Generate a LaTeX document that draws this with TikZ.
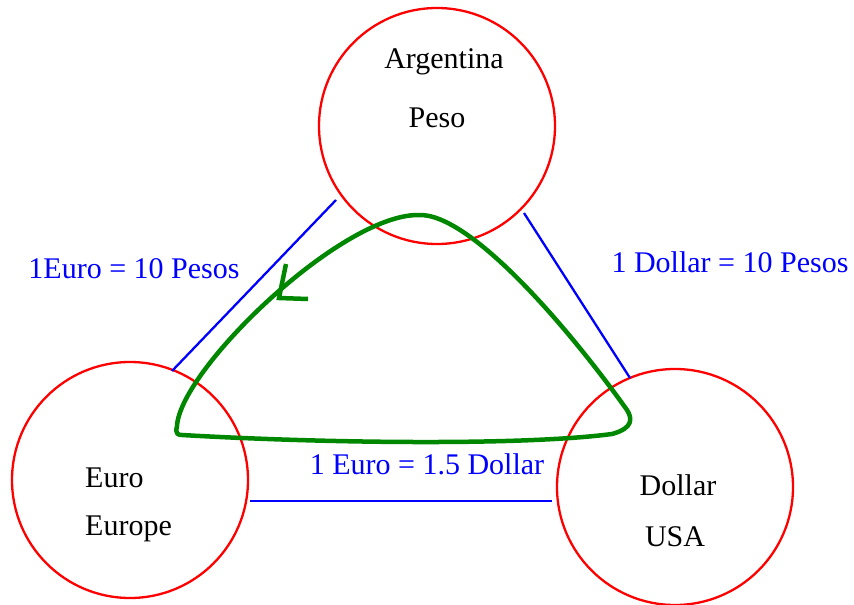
\documentclass[tikz,border=0pt]{standalone}
\usepackage{fontspec}
\setmainfont{Liberation Serif}
\definecolor{loopgreen}{RGB}{0,135,0}
\begin{document}
\begin{tikzpicture}[x=1pt,y=-1pt,
  country/.style={draw=red,line width=2.3pt,circle,minimum size=236pt,inner sep=0pt},
  rate/.style={draw=blue,line width=2.3pt},
  ratelabel/.style={text=blue,font=\fontsize{30}{34}\selectfont,inner sep=0pt},
  lbl/.style={font=\fontsize{30}{34}\selectfont,inner sep=0pt},
  loop/.style={draw=loopgreen,line width=4.5pt,line join=round,line cap=round}]
\useasboundingbox (0,0) rectangle (854,605);
\node[country] (arg) at (437,126) {};
\node[country] (eur) at (130,480) {};
\node[country] (usd) at (675,487) {};
\node[lbl] (argA) at (444,62) {Argentina};
\node[lbl] (argB) at (437,118) {Peso};
\node[lbl,anchor=west] (eurA) at (85,478) {Euro};
\node[lbl,anchor=west] (eurB) at (85,529) {Europe};
\node[lbl] (usdA) at (678,485) {Dollar};
\node[lbl] (usdB) at (675,537) {USA};
\coordinate (l1a) at (336,200); \coordinate (l1b) at (172,371);
\coordinate (l2a) at (524,213); \coordinate (l2b) at (630,378);
\coordinate (l3a) at (250,501); \coordinate (l3b) at (552,501);
\draw[rate] (l1a) -- (l1b);
\draw[rate] (l2a) -- (l2b);
\draw[rate] (l3a) -- (l3b);
\node[ratelabel] (r1) at (134,269) {1Euro = 10 Pesos};
\node[ratelabel] (r2) at (730,262) {1 Dollar = 10 Pesos};
\node[ratelabel] (r3) at (427,464) {1 Euro = 1.5 Dollar};
\draw[loop] (182,435) .. controls (320,443) and (520,446) .. (612,434)
  .. controls (634,428) and (632,418) .. (627,410)
  .. controls (570,330) and (470,212) .. (418,215)
  .. controls (340,215) and (180,370) .. (177,426)
  .. controls (175,434) and (178,435) .. cycle;
\draw[loop,line cap=butt,line join=miter] (286,264) -- (279,298) -- (308,299);
\end{tikzpicture}
\end{document}
